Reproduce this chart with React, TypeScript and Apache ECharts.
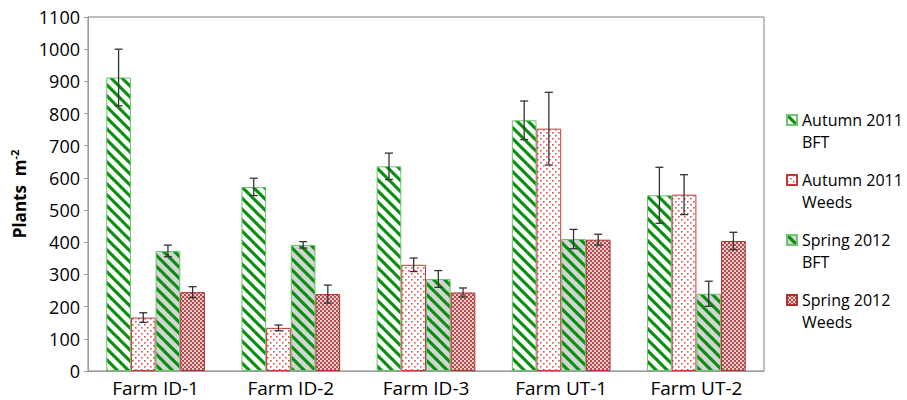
import React, { useEffect, useRef } from "react";
import * as echarts from "echarts";

const categories = ["Farm ID-1", "Farm ID-2", "Farm ID-3", "Farm UT-1", "Farm UT-2"];
const seriesNames = ["Autumn 2011 BFT", "Autumn 2011 Weeds", "Spring 2012 BFT", "Spring 2012 Weeds"];
const autumnBft = [912, 572, 636, 779, 546];
const autumnWeeds = [166, 134, 330, 753, 548];
const springBft = [373, 392, 286, 410, 240];
const springWeeds = [245, 239, 244, 408, 404];
const autumnBftErr = [88, 27, 41, 60, 87];
const autumnWeedsErr = [15, 9, 21, 113, 62];
const springBftErr = [18, 10, 26, 30, 39];
const springWeedsErr = [17, 28, 14, 17, 27];
const yTicks = { min: 0, max: 1100, interval: 100 };

const FONT = "'Open Sans', sans-serif";
const GAP_FRAC = 0.27;

function makeTile(size: number, draw: (ctx: CanvasRenderingContext2D) => void) {
  const c = document.createElement("canvas");
  c.width = size;
  c.height = size;
  const ctx = c.getContext("2d")!;
  draw(ctx);
  return { image: c.toDataURL(), repeat: "repeat", imageWidth: size, imageHeight: size } as any;
}

function stripes(bg: string, fg: string) {
  const s = 11;
  return makeTile(s, (ctx) => {
    ctx.fillStyle = bg;
    ctx.fillRect(0, 0, s, s);
    ctx.strokeStyle = fg;
    ctx.lineWidth = 3.1;
    for (let k = -1; k <= 1; k++) {
      ctx.beginPath();
      ctx.moveTo(k * s - 3, -3);
      ctx.lineTo(k * s + s + 3, s + 3);
      ctx.stroke();
    }
  });
}

function dots() {
  const s = 6;
  return makeTile(s, (ctx) => {
    ctx.fillStyle = "#ffffff";
    ctx.fillRect(0, 0, s, s);
    ctx.fillStyle = "#e05050";
    ctx.fillRect(0, 0, 1.6, 1.6);
    ctx.fillRect(3, 3, 1.6, 1.6);
  });
}

function lattice() {
  const s = 4;
  return makeTile(s, (ctx) => {
    ctx.fillStyle = "#c04848";
    ctx.fillRect(0, 0, s, s);
    ctx.fillStyle = "#d8d0d0";
    ctx.fillRect(0, 0, 2, 2);
    ctx.fillRect(2, 2, 2, 2);
  });
}

export default function App() {
  const ref = useRef<HTMLDivElement>(null);
  useEffect(() => {
    const chart = echarts.init(ref.current!, null, { renderer: "svg" });
    const values = [autumnBft, autumnWeeds, springBft, springWeeds];
    const errs = [autumnBftErr, autumnWeedsErr, springBftErr, springWeedsErr];
    const fills = [
      stripes("#ffffff", "#0a9010"),
      dots(),
      stripes("#d4d4d4", "#0a9010"),
      lattice(),
    ];
    const borders = ["#6cc46c", "#c03a3a", "#6cc46c", "#b03030"];

    const errData: number[][] = [];
    values.forEach((vals, si) => {
      vals.forEach((v, ci) => {
        errData.push([ci, si, v - errs[si][ci], v + errs[si][ci]]);
      });
    });

    const barSeries = seriesNames.map((name, si) => ({
      name,
      type: "bar",
      data: values[si],
      barGap: "0%",
      barCategoryGap: GAP_FRAC * 100 + "%",
      itemStyle: { color: fills[si], borderColor: borders[si], borderWidth: 1 },
    }));

    chart.setOption({
      animation: false,
      grid: { left: 88, right: 143, top: 17, bottom: 29, show: true, borderColor: "#808080", borderWidth: 1 },
      legend: {
        orient: "vertical",
        left: 781,
        top: 82,
        itemWidth: 10,
        itemHeight: 10,
        itemGap: -6,
        icon: "rect",
        data: seriesNames,
        formatter: (n: string) => "\n" + n.replace(/ (\S+)$/, "\n$1"),
        textStyle: { fontFamily: FONT, fontSize: 16, color: "#000", lineHeight: 22 },
      },
      xAxis: {
        type: "category",
        data: categories,
        axisLine: { lineStyle: { color: "#9a9a9a" } },
        axisTick: { show: false },
        axisLabel: { fontFamily: FONT, fontSize: 19, color: "#000", margin: 7 },
      },
      yAxis: {
        type: "value",
        min: yTicks.min,
        max: yTicks.max,
        interval: yTicks.interval,
        splitLine: { show: false },
        axisLine: { show: true, lineStyle: { color: "#9a9a9a" } },
        axisTick: { show: true, length: 4, lineStyle: { color: "#9a9a9a" } },
        axisLabel: { fontFamily: FONT, fontSize: 18, color: "#000", margin: 8, formatter: (v: number) => String(v) },
        name: "{a|Plants  m}{b|-2}",
        nameLocation: "middle",
        nameGap: 54,
        nameRotate: 90,
        nameTextStyle: {
          rich: {
            a: { fontFamily: FONT, fontSize: 17, fontWeight: "bold", color: "#000" },
            b: { fontFamily: FONT, fontSize: 11, fontWeight: "bold", color: "#000", padding: [0, 0, 9, 0] },
          },
        },
      },
      series: [
        ...barSeries,
        {
          type: "custom",
          name: "err",
          z: 10,
          data: errData,
          encode: { x: 0, y: [2, 3] },
          renderItem: (params: any, api: any) => {
            const ci = api.value(0);
            const si = api.value(1);
            const lo = api.coord([ci, api.value(2)]);
            const hi = api.coord([ci, api.value(3)]);
            const catW = api.size([1, 0])[0];
            const bw = (catW * (1 - GAP_FRAC)) / 4;
            const x = lo[0] + (si - 1.5) * bw;
            const cap = 4;
            const style = { stroke: "#333", lineWidth: 1.3 };
            return {
              type: "group",
              children: [
                { type: "line", shape: { x1: x, y1: lo[1], x2: x, y2: hi[1] }, style },
                { type: "line", shape: { x1: x - cap, y1: lo[1], x2: x + cap, y2: lo[1] }, style },
                { type: "line", shape: { x1: x - cap, y1: hi[1], x2: x + cap, y2: hi[1] }, style },
              ],
            };
          },
        },
      ],
    });
    return () => chart.dispose();
  }, []);
  return <div ref={ref} style={{ position: "fixed", left: 0, top: 0, width: 907, height: 400, background: "#fff" }} />;
}
